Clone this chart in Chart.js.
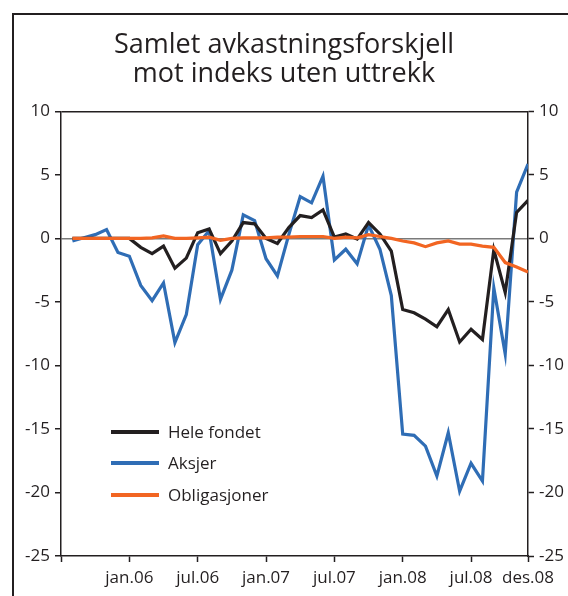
<!DOCTYPE html>
<html>
<head>
<meta charset="utf-8">
<script src="https://cdn.jsdelivr.net/npm/chart.js@4.4.1/dist/chart.umd.min.js"></script>
<style>
  html, body { margin: 0; padding: 0; background: #fff; }
  #wrap { position: relative; width: 568px; height: 596px; overflow: hidden; }
  #frame { position: absolute; left: 12px; top: 13px; width: 700px; height: 700px;
           border-left: 2px solid #231f20; border-top: 2px solid #231f20; pointer-events: none; }
  canvas { position: absolute; left: 0; top: 0; }
</style>
</head>
<body>
<div id="wrap">
  <canvas id="c" width="568" height="596"></canvas>
  <div id="frame"></div>
</div>
<script>
// ---- data ----
const axisMonths = ['jul.05','aug.05','sep.05','okt.05','nov.05','des.05',
  'jan.06','feb.06','mar.06','apr.06','mai.06','jun.06','jul.06','aug.06','sep.06','okt.06','nov.06','des.06',
  'jan.07','feb.07','mar.07','apr.07','mai.07','jun.07','jul.07','aug.07','sep.07','okt.07','nov.07','des.07',
  'jan.08','feb.08','mar.08','apr.08','mai.08','jun.08','jul.08','aug.08','sep.08','okt.08','nov.08','des.08'];
const months = axisMonths.slice(1); // data months: aug.05 .. des.08

const heleFondet = [0,0,0,0,0,0,-0.7,-1.2,-0.6,-2.35,-1.55,0.45,0.75,-1.2,-0.2,1.25,
  1.15,0,-0.4,0.85,1.8,1.65,2.25,0.1,0.35,-0.05,1.25,0.35,-1.0,-5.6,-5.85,
  -6.35,-6.95,-5.6,-8.15,-7.15,-7.95,-0.9,-4.25,2.05,3.0];
const aksjer = [-0.2,0.05,0.3,0.7,-1.1,-1.4,-3.7,-4.9,-3.5,-8.2,-6.0,-0.5,0.6,-4.8,-2.5,
  1.85,1.4,-1.6,-2.95,0.3,3.3,2.8,4.9,-1.7,-0.85,-2.0,1.05,-0.85,-4.5,-15.4,
  -15.5,-16.35,-18.7,-15.3,-19.9,-17.7,-19.1,-3.9,-9.1,3.65,5.85];
const obligasjoner = [0,0,0,0,0,0,0,0.05,0.2,0,0,0.05,0.1,-0.15,0,0.05,0.05,0.05,0.1,0.1,
  0.15,0.15,0.15,0,0.1,0.05,0.3,0.15,0,-0.2,-0.35,-0.65,-0.35,-0.2,-0.45,-0.45,-0.6,-0.7,-1.9,-2.25,-2.65];

const xTickMonths = ['jul.05','jan.06','jul.06','jan.07','jul.07','jan.08','jul.08','des.08'];
const xTickLabels = ['', 'jan.06','jul.06','jan.07','jul.07','jan.08','jul.08','des.08'];
const yTicks = [10,5,0,-5,-10,-15,-20,-25];
const titleLines = ['Samlet avkastningsforskjell', 'mot indeks uten uttrekk'];
const seriesNames = ['Hele fondet', 'Aksjer', 'Obligasjoner'];

const INK = '#231f20';
const COLORS = ['#231f20', '#2f6db5', '#f26522'];

function toPoints(vals) {
  return vals.map((v, i) => ({ x: axisMonths.indexOf(months[i]), y: v }));
}
const xTickPos = xTickMonths.map(m => axisMonths.indexOf(m));

const legendPlugin = {
  id: 'inlineLegend',
  afterDatasetsDraw(chart) {
    const ctx = chart.ctx;
    const x0 = 111, x1 = 159, tx = 168;
    const ys = [432, 463, 495];
    ctx.save();
    ctx.font = '17px "Open Sans", sans-serif';
    ctx.textBaseline = 'middle';
    ctx.textAlign = 'left';
    chart.data.datasets.forEach((ds, i) => {
      ctx.strokeStyle = ds.borderColor;
      ctx.lineWidth = 4;
      ctx.beginPath();
      ctx.moveTo(x0, ys[i]);
      ctx.lineTo(x1, ys[i]);
      ctx.stroke();
      ctx.fillStyle = INK;
      ctx.fillText(ds.label, tx, ys[i] + 1);
    });
    ctx.restore();
  }
};

const yCommon = {
  type: 'linear', min: -25, max: 10,
  afterBuildTicks(s) { s.ticks = yTicks.map(v => ({ value: v })); },
  border: { color: INK, width: 1.5 },
  ticks: { color: INK, font: { size: 17, family: '"Open Sans", sans-serif' }, padding: 5 },
};

new Chart(document.getElementById('c'), {
  type: 'line',
  data: {
    datasets: [
      { label: seriesNames[0], data: toPoints(heleFondet), borderColor: COLORS[0], order: 1 },
      { label: seriesNames[1], data: toPoints(aksjer), borderColor: COLORS[1], order: 2 },
      { label: seriesNames[2], data: toPoints(obligasjoner), borderColor: COLORS[2], order: 0 },
    ].map(d => Object.assign(d, { borderWidth: 3.2, pointRadius: 0, tension: 0, fill: false, borderJoinStyle: 'miter' }))
  },
  options: {
    responsive: false,
    animation: false,
    events: [],
    layout: { padding: { left: 0, right: 0, top: 0, bottom: 0 } },
    plugins: {
      legend: { display: false },
      tooltip: { enabled: false },
      title: {
        display: true,
        text: titleLines,
        color: INK,
        font: { size: 27, family: '"Open Sans", sans-serif', weight: 'normal', lineHeight: 1.1 },
        padding: { top: 30, bottom: 22 }
      }
    },
    scales: {
      x: {
        type: 'linear', min: 0, max: 41,
        afterBuildTicks(s) { s.ticks = xTickPos.map(v => ({ value: v })); },
        afterFit(s) { s.height = 40; },
        border: { color: INK, width: 1.5 },
        grid: { drawOnChartArea: false, tickLength: 6, tickColor: INK, tickWidth: 1.5 },
        ticks: {
          color: INK, font: { size: 17, family: '"Open Sans", sans-serif' }, padding: 6,
          maxRotation: 0, autoSkip: false,
          callback(v) { const k = xTickPos.indexOf(v); return k >= 0 ? xTickLabels[k] : ''; }
        }
      },
      y: Object.assign({}, yCommon, {
        position: 'left',
        afterFit(s) { s.width = 61; },
        grid: {
          tickLength: 6, tickColor: INK, tickWidth: 1.5,
          color: c => c.tick && c.tick.value === 0 ? '#7a7a7a' : (c.tick && c.tick.value === 10 ? INK : 'rgba(0,0,0,0)'),
          lineWidth: 1.5
        }
      }),
      y2: Object.assign({}, yCommon, {
        position: 'right',
        afterFit(s) { s.width = 40; },
        grid: { drawOnChartArea: false, tickLength: 6, tickColor: INK, tickWidth: 1.5 }
      })
    }
  },
  plugins: [legendPlugin]
});
</script>
</body>
</html>
